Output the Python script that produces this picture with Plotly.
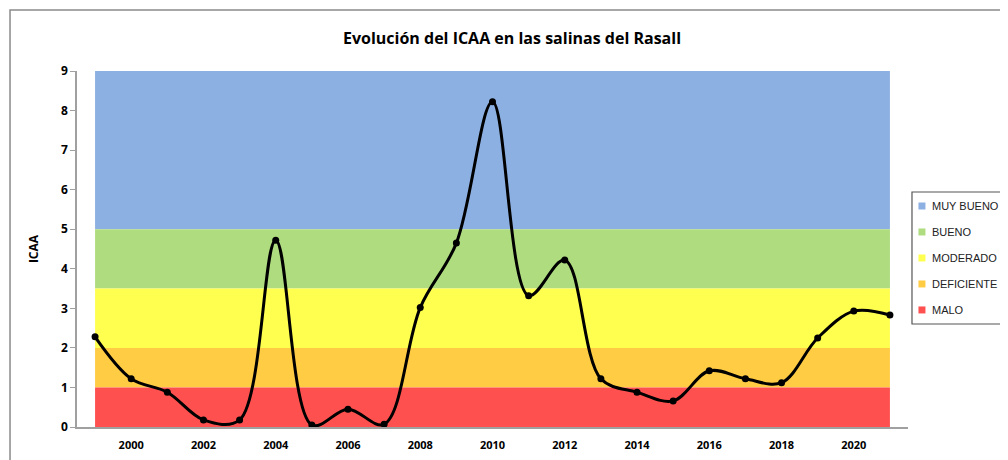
import plotly.graph_objects as go

# ICAA values per year
years = list(range(1999, 2022))
icaa = [2.28, 1.22, 0.88, 0.18, 0.18, 4.72, 0.05, 0.45, 0.07, 3.02, 4.65, 8.22,
        3.32, 4.22, 1.22, 0.88, 0.66, 1.42, 1.22, 1.12, 2.25, 2.93, 2.83]

# quality bands (lower, upper) and their colours
band_names = ['MUY BUENO', 'BUENO', 'MODERADO', 'DEFICIENTE', 'MALO']
band_low = [5, 3.5, 2, 1, 0]
band_high = [9, 5, 3.5, 2, 1]
band_colors = ['#8DB0E2', '#B0DC80', '#FFFF50', '#FFCC44', '#FF5050']

x_ticks = list(range(2000, 2021, 2))

font_name = 'Open Sans'

fig = go.Figure()

# coloured bands behind the line
for lo, hi, col in zip(band_low, band_high, band_colors):
    fig.add_shape(type='rect', xref='x', yref='y', x0=years[0], x1=years[-1],
                  y0=lo, y1=hi, fillcolor=col, line=dict(width=0), layer='below')

# ICAA line
fig.add_trace(go.Scatter(
    x=years, y=icaa, mode='lines+markers', showlegend=False,
    line=dict(color='black', width=3, shape='spline', smoothing=1.0),
    marker=dict(color='black', size=7)
))

# hand-made legend box (plotly's own legend is too wide for the space)
fig.add_shape(type='rect', xref='paper', yref='paper', x0=1.0048, x1=1.2,
              y0=0.2893, y1=0.6601, line=dict(color='#555', width=1.2),
              fillcolor='white')
item_top = 0.6208
item_step = 0.073
for i, (name, col) in enumerate(zip(band_names, band_colors)):
    yc = item_top - i * item_step
    fig.add_shape(type='rect', xref='paper', yref='paper',
                  xsizemode='pixel', ysizemode='pixel', xanchor=1.0168, yanchor=yc,
                  x0=-3.5, x1=3.5, y0=-3.5, y1=3.5,
                  fillcolor=col, line=dict(width=0))
    fig.add_annotation(xref='paper', yref='paper', x=1.0265, y=yc, text=name,
                       showarrow=False, xanchor='left', yanchor='middle',
                       font=dict(size=11, family='Liberation Sans', color='#222'))

# outer chart frame
fig.add_shape(type='rect', xref='paper', yref='paper', x0=-0.0806, x1=1.25,
              y0=-0.3, y1=1.171, line=dict(color='#8a8a8a', width=1.5),
              fillcolor='rgba(0,0,0,0)')

# the page body adds 8px, so the figure is sized and shifted to fit the window
fig.update_layout(
    width=1000, height=452,
    margin=dict(l=69, r=100, t=63, b=33, autoexpand=False),
    paper_bgcolor='white', plot_bgcolor='white',
    showlegend=False,
    font=dict(family=font_name, color='black'),
    title=dict(text='Evolución del ICAA en las salinas del Rasall',
               x=0.504, xanchor='center', y=0.9336, yanchor='middle',
               font=dict(size=16, family=font_name, color='black', weight='bold')),
    xaxis=dict(range=[1998.5, 2021.5], tickvals=x_ticks, automargin=False,
               tickfont=dict(size=11, family=font_name, weight='bold'),
               ticklabelstandoff=7,
               showgrid=False, zeroline=False, showline=True,
               linecolor='#a0a0a0', linewidth=1.5),
    yaxis=dict(range=[0, 9], dtick=1, automargin=False,
               title=dict(text='ICAA', standoff=20,
                          font=dict(size=12, family=font_name, weight='bold')),
               tickfont=dict(size=12, family=font_name, weight='bold'),
               ticks='outside', ticklen=5, tickcolor='#a0a0a0',
               showgrid=False, zeroline=False, showline=True,
               linecolor='#a0a0a0', linewidth=1.5),
)

fig.write_html('out.html')
